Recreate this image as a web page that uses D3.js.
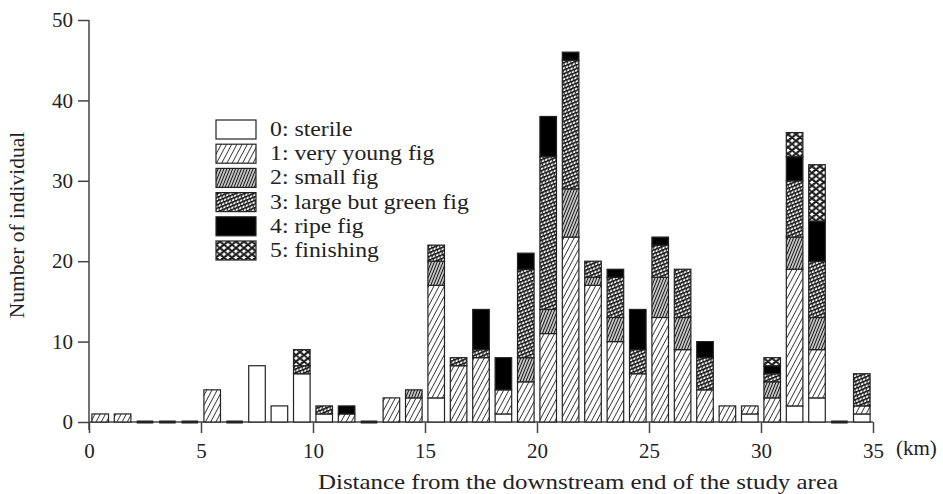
<!DOCTYPE html>
<html>
<head>
<meta charset="utf-8">
<script src="https://cdn.jsdelivr.net/npm/d3@7/dist/d3.min.js"></script>
<style>
  body { margin: 0; background: #fff; }
  text { font-family: "Liberation Serif", "Times New Roman", serif; fill: #222; }
</style>
</head>
<body>
<div id="chart"></div>
<script>
// km bins (left edge of each 1 km section)
const bins = [0, 1, 2, 3, 4, 5, 6, 7, 8, 9, 10, 11, 12, 13, 14, 15, 16, 17,
  18, 19, 20, 21, 22, 23, 24, 25, 26, 27, 28, 29, 30, 31, 32, 33, 34];

const stages = ['0: sterile', '1: very young fig', '2: small fig',
  '3: large but green fig', '4: ripe fig', '5: finishing'];

const sterile    = [0, 0, 0, 0, 0, 0, 0, 7, 2, 6, 1, 0, 0, 0, 0, 3, 0, 0, 1, 0, 0, 0, 0, 0, 0, 0, 0, 0, 0, 1, 0, 2, 3, 0, 1];
const veryYoung  = [1, 1, 0, 0, 0, 4, 0, 0, 0, 0, 0, 1, 0, 3, 3, 14, 7, 8, 3, 5, 11, 23, 17, 10, 6, 13, 9, 4, 2, 1, 3, 17, 6, 0, 1];
const smallFig   = [0, 0, 0, 0, 0, 0, 0, 0, 0, 0, 0, 0, 0, 0, 1, 3, 0, 0, 0, 3, 3, 6, 1, 3, 0, 5, 4, 0, 0, 0, 2, 4, 4, 0, 0];
const largeGreen = [0, 0, 0, 0, 0, 0, 0, 0, 0, 1, 1, 0, 0, 0, 0, 2, 1, 1, 0, 11, 19, 16, 2, 5, 3, 4, 6, 4, 0, 0, 1, 7, 7, 0, 4];
const ripe       = [0, 0, 0, 0, 0, 0, 0, 0, 0, 0, 0, 1, 0, 0, 0, 0, 0, 5, 4, 2, 5, 1, 0, 1, 5, 1, 0, 2, 0, 0, 1, 3, 5, 0, 0];
const finishing  = [0, 0, 0, 0, 0, 0, 0, 0, 0, 2, 0, 0, 0, 0, 0, 0, 0, 0, 0, 0, 0, 0, 0, 0, 0, 0, 0, 0, 0, 0, 1, 3, 7, 0, 0];

const xTicks = [0, 5, 10, 15, 20, 25, 30, 35];
const yTicks = [0, 10, 20, 30, 40, 50];

const series = [sterile, veryYoung, smallFig, largeGreen, ripe, finishing];
const keys = ['s0', 's1', 's2', 's3', 's4', 's5'];
const table = bins.map((b, i) => {
  const row = { km: b };
  keys.forEach((k, j) => { row[k] = series[j][i]; });
  return row;
});

const width = 943;
const height = 494;

const svg = d3.select('#chart').append('svg')
  .attr('width', width)
  .attr('height', height);

const x = d3.scaleLinear().domain([0, 35]).range([89, 873]);
const y = d3.scaleLinear().domain([0, 50]).range([422, 20]);

// the original face is wider than Times, so stretch text a bit
function widen(sel, k) {
  sel.each(function () {
    const len = this.getComputedTextLength();
    d3.select(this).attr('textLength', len * k).attr('lengthAdjust', 'spacingAndGlyphs');
  });
}

// fill patterns for the six stages
const defs = svg.append('defs');

function hatch(id, spacing, angle, sw) {
  const p = defs.append('pattern')
    .attr('id', id)
    .attr('patternUnits', 'userSpaceOnUse')
    .attr('width', spacing)
    .attr('height', 10)
    .attr('patternTransform', `rotate(${angle})`);
  p.append('rect').attr('width', spacing).attr('height', 10).attr('fill', '#fff');
  p.append('line')
    .attr('x1', spacing / 2).attr('x2', spacing / 2)
    .attr('y1', 0).attr('y2', 10)
    .attr('stroke', '#111')
    .attr('stroke-width', sw);
}
hatch('p1', 4.6, 28, 0.8);
hatch('p2', 2.7, 22, 1.35);

// large but green: shallow lines crossed with short steep strokes
const p3 = defs.append('pattern')
  .attr('id', 'p3')
  .attr('patternUnits', 'userSpaceOnUse')
  .attr('width', 3.6)
  .attr('height', 3.4)
  .attr('patternTransform', 'rotate(-22)');
p3.append('rect').attr('width', 3.6).attr('height', 3.4).attr('fill', '#fff');
p3.append('line').attr('x1', 0).attr('x2', 3.6).attr('y1', 0.7).attr('y2', 0.7)
  .attr('stroke', '#111').attr('stroke-width', 1.5);
p3.append('line').attr('x1', 3.1).attr('x2', 1.4).attr('y1', 0.8).attr('y2', 3.4)
  .attr('stroke', '#111').attr('stroke-width', 1);

// finishing: overlapping scales, outlined
const p5 = defs.append('pattern')
  .attr('id', 'p5')
  .attr('patternUnits', 'userSpaceOnUse')
  .attr('width', 8)
  .attr('height', 6.4);
p5.append('rect').attr('width', 8).attr('height', 6.4).attr('fill', '#fff');
[[4, 3.2], [0, 0], [8, 0], [0, 6.4], [8, 6.4]].forEach(([cx, cy]) => {
  p5.append('ellipse')
    .attr('cx', cx).attr('cy', cy)
    .attr('rx', 3.4).attr('ry', 2.6)
    .attr('fill', 'none')
    .attr('stroke', '#111')
    .attr('stroke-width', 1.1);
});

const fills = ['#fff', 'url(#p1)', 'url(#p2)', 'url(#p3)', '#000', 'url(#p5)'];

// axes
const yAxis = svg.append('g')
  .attr('transform', `translate(${x(0)},0)`)
  .call(d3.axisLeft(y).tickValues(yTicks).tickSize(11).tickPadding(5));
const xAxis = svg.append('g')
  .attr('transform', `translate(0,${y(0)})`)
  .call(d3.axisBottom(x).tickValues(xTicks).tickSize(11).tickPadding(10));

[yAxis, xAxis].forEach((g) => {
  g.select('.domain').attr('stroke', '#444').attr('stroke-width', 1.5);
  g.selectAll('.tick line').attr('stroke', '#444').attr('stroke-width', 1.5);
  g.selectAll('.tick text')
    .style('font-family', '"Liberation Serif", serif')
    .style('font-size', '21px')
    .attr('fill', '#222');
});
// y axis runs a little below zero
yAxis.select('.domain').attr('d', `M0,${y(50)}V${y(0) + 8}`);
xAxis.select('.domain').attr('d', `M${x(0)},0H${x(35)}`);

// stacked bars
const stack = d3.stack().keys(keys)(table);
const barW = x(0.74) - x(0);

const layers = svg.append('g').selectAll('g')
  .data(stack)
  .join('g')
  .attr('fill', (d, i) => fills[i]);

layers.selectAll('rect')
  .data((d) => d.filter((s) => s[1] > s[0]))
  .join('rect')
  .attr('x', (d) => x(d.data.km + 0.5) - barW / 2)
  .attr('y', (d) => y(d[1]))
  .attr('width', barW)
  .attr('height', (d) => y(d[0]) - y(d[1]))
  .attr('stroke', '#222')
  .attr('stroke-width', 1.2);

// empty sections are marked by a short dark dash on the baseline
svg.append('g').selectAll('rect')
  .data(table.filter((r) => keys.every((k) => r[k] === 0)))
  .join('rect')
  .attr('x', (d) => x(d.km + 0.5) - barW / 2)
  .attr('y', y(0) - 1.5)
  .attr('width', barW)
  .attr('height', 3)
  .attr('fill', '#222');

// legend
const legend = svg.append('g').attr('transform', 'translate(216,120)');
stages.forEach((s, i) => {
  legend.append('rect')
    .attr('x', 0)
    .attr('y', i * 24.2)
    .attr('width', 40)
    .attr('height', 19)
    .attr('fill', fills[i])
    .attr('stroke', '#222')
    .attr('stroke-width', 1.2);
  legend.append('text')
    .attr('class', 'legend-label')
    .attr('x', 54)
    .attr('y', i * 24.2 + 16)
    .style('font-size', '22px')
    .text(s);
});
widen(legend.selectAll('.legend-label'), 1.08);

// axis titles
svg.append('text')
  .attr('x', 896)
  .attr('y', y(0) + 33)
  .attr('text-anchor', 'start')
  .style('font-size', '21px')
  .text('(km)');

svg.append('text')
  .attr('x', 318)
  .attr('y', 489)
  .attr('text-anchor', 'start')
  .attr('textLength', 520)
  .attr('lengthAdjust', 'spacingAndGlyphs')
  .style('font-size', '22px')
  .text('Distance from the downstream end of the study area');

svg.append('text')
  .attr('transform', 'translate(24,225) rotate(-90)')
  .attr('text-anchor', 'middle')
  .style('font-size', '21.5px')
  .text('Number of individual');
</script>
</body>
</html>
